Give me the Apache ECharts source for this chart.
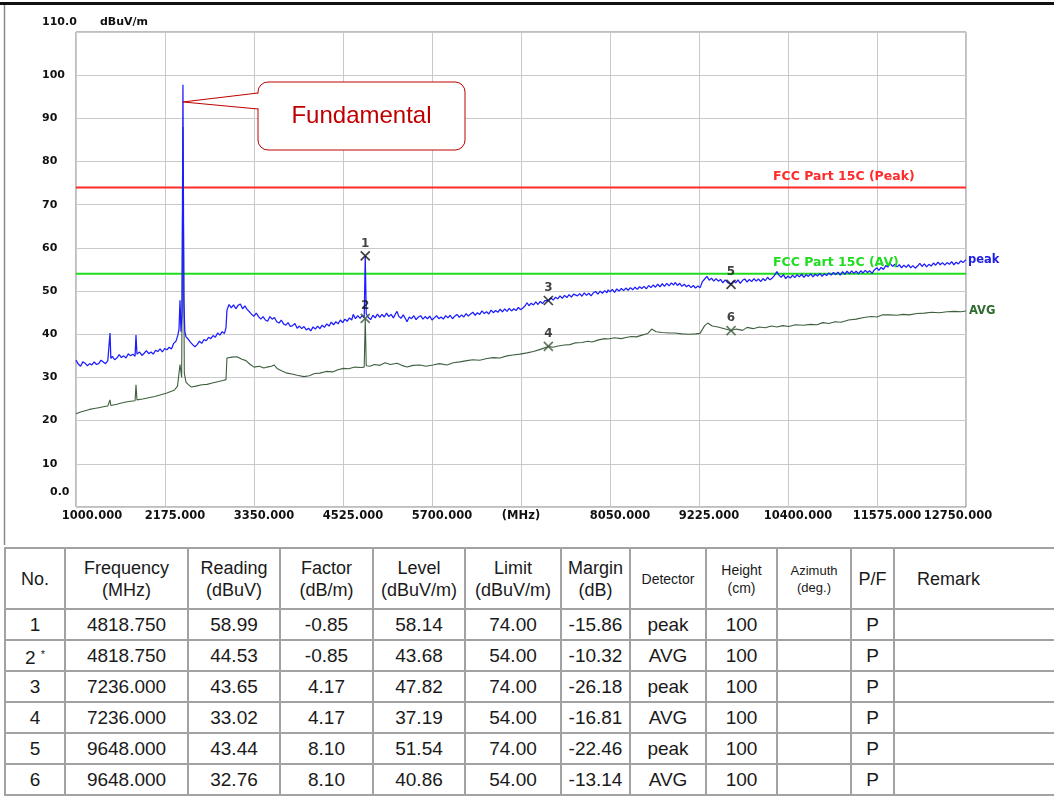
<!DOCTYPE html>
<html><head><meta charset="utf-8">
<script src="https://cdn.jsdelivr.net/npm/echarts@6/dist/echarts.min.js"></script>
<style>
html,body{margin:0;padding:0;background:#fff;width:1054px;height:797px;overflow:hidden;}
#chart{position:absolute;left:0;top:0;width:1054px;height:545px;}
#tbl{position:absolute;left:4px;top:547px;border-collapse:collapse;font-family:"Liberation Sans",Arial,sans-serif;color:#1a1a1a;table-layout:fixed;}
#tbl td{border:2px solid #a2a2a2;text-align:center;padding:0;font-size:19px;height:29px;line-height:20px;white-space:nowrap;overflow:hidden;}
#tbl tr.hd td{height:59px;font-size:18px;line-height:22px;}
#tbl tr.hd td.sm{font-size:14px;line-height:18px;}
#tbl tr.hd td.xs{font-size:13px;line-height:17px;}
#tbl td.rm{text-align:left;padding-left:22px;}
.star{font-size:11px;vertical-align:6px;}
</style>
</head><body>
<div id="chart"></div>
<table id="tbl"><colgroup></colgroup><tbody></tbody></table>
<script>
// ---------------- data ----------------
const xMin = 1000, xMax = 12750, xStep = 1175;
const xTickLabels = ['1000.000','2175.000','3350.000','4525.000','5700.000','(MHz)','8050.000','9225.000','10400.000','11575.000','12750.000'];
const yUnit = 'dBuV/m';
const limitPeak = 74, limitAvg = 54;
const limitPeakName = 'FCC Part 15C (Peak)';
const limitAvgName = 'FCC Part 15C (AV)';
const fundamentalFreq = 2412, calloutLevel = 93.8;
const calloutText = 'Fundamental';

// peak trace [MHz, dBuV/m]
const peakTrace = [
[1000,34.0],[1030,33.1],[1060,32.6],[1090,33.6],[1120,33.3],[1150,32.7],[1180,33.2],[1210,32.9],[1240,33.6],[1270,33.0],[1300,33.2],[1330,34.0],[1360,33.6],[1390,33.2],[1420,33.9],[1440,34.0],[1449,40.3],[1460,34.4],[1480,34.9],[1510,34.1],[1540,34.5],[1570,35.3],[1600,34.6],[1630,35.0],[1660,34.5],[1690,35.5],[1720,35.0],[1750,35.4],[1780,34.9],[1792,39.8],[1805,35.4],[1840,35.9],[1870,35.1],[1900,35.6],[1930,36.2],[1960,35.5],[1990,35.9],[2020,35.4],[2050,36.3],[2080,36.0],[2110,36.6],[2140,35.9],[2170,36.7],[2200,36.4],[2230,37.0],[2260,36.6],[2290,37.9],[2320,38.4],[2345,39.8],[2360,41.2],[2373,47.9],[2386,40.6],[2400,45.0],[2412,97.8],[2424,48.0],[2436,40.8],[2452,39.4],[2480,38.9],[2510,38.2],[2540,37.6],[2570,37.1],[2600,37.6],[2630,38.4],[2660,37.9],[2690,38.8],[2720,38.5],[2750,39.3],[2780,39.0],[2810,39.7],[2840,39.3],[2870,40.3],[2900,39.8],[2930,40.6],[2960,40.2],[2980,41.5],[2993,45.6],[3020,46.9],[3050,46.1],[3080,46.8],[3110,45.9],[3140,46.7],[3170,47.0],[3200,45.9],[3230,46.6],[3260,45.7],[3290,45.2],[3320,44.6],[3350,44.2],[3380,44.9],[3410,44.1],[3440,43.5],[3470,44.1],[3500,43.3],[3530,43.0],[3560,44.1],[3590,43.5],[3620,43.9],[3650,42.9],[3680,42.6],[3710,43.3],[3740,42.4],[3770,42.1],[3800,42.7],[3830,41.8],[3860,42.0],[3890,42.5],[3920,41.4],[3950,41.9],[3980,41.3],[4010,41.8],[4040,41.0],[4070,41.4],[4100,40.8],[4130,41.7],[4160,41.2],[4190,41.9],[4220,41.3],[4250,42.1],[4280,41.6],[4310,42.4],[4340,41.9],[4370,42.8],[4400,42.2],[4430,42.9],[4460,42.4],[4490,43.3],[4520,42.7],[4550,43.5],[4580,43.0],[4610,43.8],[4640,43.3],[4660,44.6],[4690,43.6],[4720,44.3],[4750,43.7],[4780,44.4],[4805,43.8],[4818.75,58.14],[4832,44.7],[4860,43.9],[4890,43.4],[4920,44.4],[4950,43.8],[4980,44.7],[5010,43.9],[5040,44.6],[5070,44.0],[5100,44.9],[5130,44.1],[5160,44.6],[5190,43.8],[5220,44.8],[5238,45.3],[5260,44.2],[5290,43.7],[5320,44.5],[5350,43.6],[5370,42.9],[5400,44.0],[5430,43.6],[5460,44.3],[5490,43.4],[5520,44.0],[5550,44.3],[5580,43.5],[5610,44.1],[5640,43.6],[5670,44.2],[5700,43.3],[5730,43.8],[5760,44.3],[5790,43.6],[5820,44.0],[5850,43.5],[5880,44.3],[5910,43.8],[5940,44.4],[5970,43.6],[6000,44.2],[6030,44.6],[6060,43.9],[6090,44.5],[6120,44.0],[6150,44.8],[6180,44.2],[6210,44.7],[6240,45.1],[6270,44.4],[6300,45.0],[6330,44.6],[6360,45.4],[6390,44.8],[6420,45.2],[6450,44.7],[6480,45.6],[6510,45.0],[6540,45.5],[6570,45.1],[6600,45.8],[6630,45.2],[6660,45.9],[6690,45.3],[6720,46.0],[6750,45.4],[6780,45.9],[6810,45.5],[6840,46.2],[6870,45.7],[6900,46.1],[6930,46.6],[6955,47.3],[6980,46.6],[7010,47.2],[7040,46.8],[7070,47.5],[7100,46.9],[7130,47.6],[7160,47.1],[7190,47.8],[7236,47.82],[7270,48.4],[7300,47.9],[7330,48.6],[7360,48.2],[7390,48.9],[7420,48.3],[7450,49.0],[7480,48.5],[7510,49.2],[7540,48.6],[7570,49.3],[7590,49.7],[7620,48.9],[7650,49.4],[7680,48.8],[7710,49.6],[7740,49.0],[7770,49.5],[7800,48.9],[7830,49.6],[7860,49.9],[7890,49.3],[7920,50.0],[7950,49.5],[7980,50.1],[8010,49.6],[8025,50.3],[8050,49.8],[8080,50.4],[8110,49.7],[8140,50.5],[8170,50.0],[8200,50.6],[8230,50.1],[8260,50.7],[8290,50.2],[8320,50.8],[8350,50.3],[8380,50.9],[8410,50.4],[8440,51.0],[8470,50.6],[8500,51.1],[8530,50.5],[8560,51.3],[8590,50.8],[8620,51.4],[8650,50.9],[8680,51.6],[8710,51.0],[8740,51.7],[8770,51.1],[8800,51.8],[8830,51.2],[8860,51.9],[8890,51.4],[8910,52.0],[8940,51.3],[8970,51.8],[9000,51.1],[9030,51.6],[9060,51.0],[9090,51.4],[9120,50.8],[9150,51.3],[9180,50.7],[9210,51.2],[9240,50.8],[9270,52.2],[9300,52.8],[9330,53.4],[9360,52.5],[9390,53.0],[9420,52.3],[9450,52.9],[9480,52.3],[9510,52.7],[9540,51.9],[9570,52.6],[9600,52.0],[9648,51.54],[9680,52.4],[9710,51.9],[9740,52.6],[9770,51.8],[9800,52.5],[9830,52.8],[9860,52.1],[9890,52.7],[9920,52.2],[9950,52.9],[9980,52.3],[10010,52.8],[10040,52.2],[10070,52.9],[10100,52.4],[10130,53.2],[10160,52.6],[10190,53.0],[10220,53.6],[10254,54.5],[10280,53.7],[10310,53.2],[10340,53.8],[10370,52.9],[10400,53.5],[10430,53.0],[10460,53.7],[10490,53.1],[10520,53.8],[10550,53.3],[10580,53.9],[10610,53.2],[10640,53.8],[10670,53.4],[10700,54.0],[10730,53.3],[10760,53.9],[10790,53.5],[10820,54.1],[10850,53.4],[10880,54.0],[10910,53.6],[10940,54.2],[10970,53.7],[11000,54.3],[11030,53.8],[11060,54.4],[11090,53.7],[11120,54.5],[11150,53.9],[11180,54.6],[11210,54.0],[11240,54.7],[11270,54.1],[11300,54.6],[11330,54.0],[11360,54.7],[11390,54.2],[11420,54.8],[11450,54.3],[11480,54.7],[11510,54.1],[11540,54.9],[11575,55.4],[11600,54.8],[11630,55.5],[11660,55.0],[11690,55.9],[11720,55.6],[11746,56.5],[11780,55.7],[11810,56.2],[11840,55.6],[11870,56.1],[11900,55.4],[11930,56.0],[11960,55.5],[11990,56.1],[12020,55.4],[12050,55.9],[12080,55.3],[12110,55.8],[12140,56.4],[12170,55.7],[12200,56.3],[12230,55.6],[12260,56.2],[12290,55.8],[12320,56.5],[12350,56.0],[12380,56.7],[12410,56.1],[12440,56.6],[12470,56.0],[12500,56.6],[12530,56.2],[12560,56.8],[12590,56.1],[12620,56.7],[12650,56.3],[12680,57.0],[12710,56.6],[12750,57.3]
];

// average trace [MHz, dBuV/m]
const avgTrace = [
[1000,21.6],[1060,22.0],[1120,22.3],[1180,22.6],[1240,22.8],[1300,23.0],[1360,23.2],[1420,23.4],[1440,23.5],[1449,24.8],[1460,23.5],[1540,23.8],[1600,24.1],[1660,24.3],[1720,24.5],[1780,24.6],[1792,28.3],[1805,24.8],[1880,25.0],[1960,25.3],[2040,25.6],[2120,26.0],[2200,26.4],[2260,26.8],[2300,27.1],[2340,28.0],[2373,33.0],[2395,30.0],[2412,88.0],[2430,31.0],[2452,28.9],[2480,28.4],[2520,27.8],[2584,28.0],[2660,28.3],[2730,28.4],[2800,28.7],[2870,29.0],[2940,29.3],[2980,29.5],[2993,34.5],[3060,34.7],[3125,34.8],[3190,34.2],[3244,33.9],[3300,33.0],[3350,32.4],[3420,32.6],[3480,32.2],[3522,32.4],[3580,32.6],[3614,32.9],[3660,32.0],[3720,31.5],[3786,31.0],[3850,30.8],[3920,30.5],[4010,30.2],[4080,30.4],[4150,30.9],[4221,31.0],[4300,31.4],[4393,31.3],[4460,31.8],[4530,32.1],[4600,32.0],[4680,32.4],[4760,32.3],[4805,32.4],[4818.75,43.68],[4832,32.7],[4881,32.6],[4940,33.0],[5013,32.8],[5080,33.4],[5150,33.0],[5238,33.3],[5300,32.8],[5370,32.4],[5450,32.8],[5542,32.9],[5620,32.6],[5713,32.9],[5800,33.2],[5898,32.9],[5980,33.4],[6070,33.6],[6160,33.9],[6241,34.1],[6330,34.0],[6426,34.4],[6510,34.6],[6598,34.5],[6690,35.0],[6769,35.2],[6860,35.4],[6954,35.7],[7040,36.0],[7130,36.5],[7236,37.19],[7300,37.0],[7363,37.3],[7450,37.5],[7520,37.6],[7588,38.0],[7680,38.1],[7760,38.4],[7812,38.2],[7900,38.7],[7980,39.0],[8023,38.9],[8110,39.2],[8200,39.0],[8248,39.2],[8330,39.5],[8400,39.4],[8472,39.8],[8550,40.2],[8600,41.2],[8660,40.6],[8740,40.4],[8830,40.3],[8908,40.3],[9000,40.1],[9090,40.0],[9180,40.1],[9238,40.2],[9300,42.0],[9340,42.6],[9400,41.9],[9475,41.7],[9560,41.3],[9648,40.86],[9720,41.2],[9800,40.9],[9860,41.6],[9940,41.3],[10020,41.7],[10100,41.5],[10180,41.9],[10254,41.7],[10330,42.0],[10410,41.8],[10500,42.2],[10600,42.1],[10700,42.3],[10783,42.2],[10860,42.7],[10940,42.5],[11020,42.9],[11100,42.8],[11200,43.3],[11300,43.5],[11400,43.9],[11500,44.1],[11575,44.0],[11650,44.5],[11746,44.5],[11840,44.4],[11918,44.6],[12000,44.5],[12103,44.8],[12200,44.9],[12300,45.1],[12400,45.0],[12500,45.2],[12600,45.3],[12680,45.2],[12750,45.4]
];

// measured markers
const markerNo = ['1','2','3','4','5','6'];
const markerFreq = [4818.75, 4818.75, 7236, 7236, 9648, 9648];
const markerLevel = [58.14, 43.68, 47.82, 37.19, 51.54, 40.86];
const markerDetector = ['peak','AVG','peak','AVG','peak','AVG'];

// table
const tblHeader = ['No.','Frequency<br>(MHz)','Reading<br>(dBuV)','Factor<br>(dB/m)','Level<br>(dBuV/m)','Limit<br>(dBuV/m)','Margin<br>(dB)','Detector','Height<br>(cm)','Azimuth<br>(deg.)','P/F','Remark'];
const tblNo = ['1','2 <span class="star">*</span>','3','4','5','6'];
const tblFreq = ['4818.750','4818.750','7236.000','7236.000','9648.000','9648.000'];
const tblReading = ['58.99','44.53','43.65','33.02','43.44','32.76'];
const tblFactor = ['-0.85','-0.85','4.17','4.17','8.10','8.10'];
const tblLevel = ['58.14','43.68','47.82','37.19','51.54','40.86'];
const tblLimit = ['74.00','54.00','74.00','54.00','74.00','54.00'];
const tblMargin = ['-15.86','-10.32','-26.18','-16.81','-22.46','-13.14'];
const tblDetector = ['peak','AVG','peak','AVG','peak','AVG'];
const tblHeight = ['100','100','100','100','100','100'];
const tblAzimuth = ['','','','','',''];
const tblPF = ['P','P','P','P','P','P'];
const tblRemark = ['','','','','',''];

// ---------------- table ----------------
const colW = [60,123,92,93,92,96,69,76,71,74,43,170];
const hdClass = ['','','','','','','','sm','sm','xs','','rm'];
(function(){
  const cg = document.querySelector('#tbl colgroup');
  colW.forEach(w => { const c = document.createElement('col'); c.style.width = w + 'px'; cg.appendChild(c); });
  const tb = document.querySelector('#tbl tbody');
  let h = '<tr class="hd">' + tblHeader.map((t,i)=>'<td class="'+hdClass[i]+'">'+t+'</td>').join('') + '</tr>';
  for (let r = 0; r < tblNo.length; r++) {
    const cells = [tblNo[r],tblFreq[r],tblReading[r],tblFactor[r],tblLevel[r],tblLimit[r],tblMargin[r],tblDetector[r],tblHeight[r],tblAzimuth[r],tblPF[r],tblRemark[r]];
    h += '<tr>' + cells.map((t,i)=>'<td'+(i===11?' class="rm"':'')+'>'+t+'</td>').join('') + '</tr>';
  }
  tb.innerHTML = h;
  const tbl = document.getElementById('tbl');
  tbl.style.width = colW.reduce((a,b)=>a+b,0) + 'px';
})();

// ---------------- chart ----------------
const FONT = '"DejaVu Sans", Verdana, sans-serif';
const chart = echarts.init(document.getElementById('chart'), null, {renderer:'canvas'});
const gridColor = '#c9c9c9';

function limitSeries(name, level, color, label) {
  return {
    name, type:'line', xAxisIndex:0, yAxisIndex:0, symbol:'none', silent:true, z:1,
    lineStyle:{color, width:2}, animation:false,
    data:[[xMin, level],[xMax, level]],
    markPoint:{
      symbol:'circle', symbolSize:0, silent:true, animation:false,
      data:[{coord:[xMin, level],
        label:{show:true, position:'right', offset:[692,-11], formatter:label,
          color, fontFamily:FONT, fontWeight:'bold', fontSize:12.5}}]
    }
  };
}

const option = {
  animation:false,
  grid:{left:76, right:88, top:32, bottom:38, show:true, borderColor:'#7c7c7c', borderWidth:1, backgroundColor:'#fff'},
  xAxis:[
    {type:'value', min:xMin, max:xMax, show:false},
    {type:'value', min:0, max:xMax-xMin, interval:xStep, position:'bottom',
      axisLine:{show:false}, axisTick:{show:false},
      splitLine:{show:true, lineStyle:{color:gridColor, width:1}},
      axisLabel:{show:true, margin:3, showMinLabel:true, showMaxLabel:true, color:'#111',
        fontFamily:FONT, fontWeight:'bold', fontSize:11.5,
        formatter:function(v){
          const i = Math.round(v/xStep); const s = xTickLabels[i];
          if (i===0) return '{f|'+s+'}';
          if (i===xTickLabels.length-1) return '{l|'+s+'}';
          if (s==='(MHz)') return '{m|'+s+'}';
          return '{a|'+s+'}';
        },
        rich:{
          a:{padding:[0,0,0,20], fontFamily:FONT, fontWeight:'bold', fontSize:11.5, color:'#111'},
          f:{padding:[0,0,0,32], fontFamily:FONT, fontWeight:'bold', fontSize:11.5, color:'#111'},
          l:{padding:[0,16,0,0], fontFamily:FONT, fontWeight:'bold', fontSize:11.5, color:'#111'},
          m:{padding:[0,0,0,0], fontFamily:FONT, fontWeight:'bold', fontSize:11.5, color:'#111'}
        }
      }
    }
  ],
  yAxis:{type:'value', min:0, max:110, interval:10,
    name:yUnit, nameLocation:'end', nameGap:10,
    nameTextStyle:{align:'left', verticalAlign:'middle', padding:[0,0,0,24], color:'#111', fontFamily:FONT, fontWeight:'bold', fontSize:11},
    axisLine:{show:false}, axisTick:{show:false},
    splitLine:{show:true, lineStyle:{color:gridColor, width:1}},
    axisLabel:{show:true, align:'left', margin:34, showMinLabel:true, showMaxLabel:true,
      color:'#111', fontFamily:FONT, fontWeight:'bold', fontSize:11,
      formatter:function(v){
        if (v===110) return '{t|110.0}';
        if (v===0) return '{z|0.0}';
        return '{n|'+v+'}';
      },
      rich:{
        t:{padding:[0,0,20,0], fontFamily:FONT, fontWeight:'bold', fontSize:11, color:'#111'},
        z:{padding:[0,0,30,8], fontFamily:FONT, fontWeight:'bold', fontSize:11, color:'#111'},
        n:{fontFamily:FONT, fontWeight:'bold', fontSize:11, color:'#111'}
      }
    }
  },
  series:[
    limitSeries('limitPeak', limitPeak, '#ff2a2a', limitPeakName),
    limitSeries('limitAvg', limitAvg, '#1fdc1f', limitAvgName),
    {name:'AVG', type:'line', xAxisIndex:0, symbol:'none', z:2, silent:true,
      lineStyle:{color:'#3f5f3f', width:1.1}, data:avgTrace,
      endLabel:{show:true, formatter:'AVG', color:'#2f6a2f', fontFamily:FONT, fontWeight:'bold', fontSize:11.5, distance:3}},
    {name:'peak', type:'line', xAxisIndex:0, symbol:'none', z:3, silent:true,
      lineStyle:{color:'#1c1cff', width:1.25}, data:peakTrace,
      endLabel:{show:true, formatter:'peak', color:'#2020e0', fontFamily:FONT, fontWeight:'bold', fontSize:11.5, distance:2}},
    {name:'markers', type:'scatter', xAxisIndex:0, z:5, silent:true,
      symbol:'path://M0 0L10 10M10 0L0 10', symbolSize:9,
      data: markerFreq.map((f,i)=>({value:[f, markerLevel[i]],
        itemStyle:{color:'rgba(0,0,0,0)', borderColor: markerDetector[i]==='peak' ? '#111' : '#3c5a3c', borderWidth:1.7}})),
      label:{show:true, position:'top', distance:1, formatter:p=>markerNo[p.dataIndex],
        color:'#111', fontFamily:FONT, fontWeight:'bold', fontSize:12}
    }
  ]
};
chart.setOption(option);

// callout and frame
const tip = chart.convertToPixel({xAxisIndex:0, yAxisIndex:0}, [fundamentalFreq, calloutLevel]);
const bx = 258, by = 82, bw = 207, bh = 68;
chart.setOption({
  graphic:[
    {type:'rect', z:100, shape:{x:0, y:2, width:1054, height:3}, style:{fill:'#111'}},
    {type:'line', z:100, shape:{x1:4.5, y1:5, x2:4.5, y2:547}, style:{stroke:'#8a8a8a', lineWidth:1.5}},
    {type:'rect', z:100, shape:{x:bx, y:by, width:bw, height:bh, r:10}, style:{fill:'#fff', stroke:'#c00000', lineWidth:1}},
    {type:'polygon', z:101, shape:{points:[[bx+2, 93.5],[tip[0], tip[1]],[bx+2, 108.5]]}, style:{fill:'#fff'}},
    {type:'polyline', z:102, shape:{points:[[bx, 93],[tip[0], tip[1]],[bx, 109]]}, style:{stroke:'#c00000', lineWidth:1, fill:null}},
    {type:'text', z:103, x:bx+bw/2, y:by+bh/2, style:{text:calloutText, fill:'#c00000', font:'24px "Liberation Sans", Arial, sans-serif', textAlign:'center', textVerticalAlign:'middle'}}
  ]
});
</script>
</body></html>
